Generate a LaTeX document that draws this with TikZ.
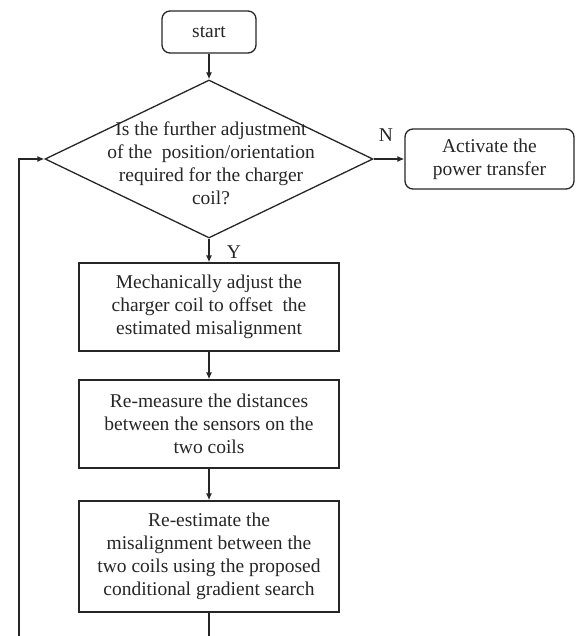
\documentclass[tikz,border=0pt]{standalone}
\usepackage{fontspec}
\setmainfont{Liberation Serif}
\usetikzlibrary{shapes.geometric,arrows.meta}
\begin{document}
\begin{tikzpicture}[x=1pt,y=-1pt,
  every node/.style={font=\fontsize{19.5}{23}\selectfont, text=black!85},
  line/.style={draw=black!85, line width=1.3pt},
  arr/.style={line, -{Latex[length=7pt,width=6pt]}},
  rbox/.style={line, rectangle, rounded corners=8pt, inner sep=0pt, align=center},
  pbox/.style={line, rectangle, inner sep=0pt, align=center, minimum width=260pt},
  plain/.style={inner sep=0pt, align=center}]
\useasboundingbox (0,0) rectangle (579,636);
\node[rbox, minimum width=94pt, minimum height=42pt] (start) at (209,32) {start};
\node[line, diamond, inner sep=0pt, minimum width=328pt, minimum height=158pt] (q) at (209,159) {};
\node[plain] (qt) at (211,163) {Is the further adjustment\\of the\ \ position/orientation\\required for the charger\\coil?};
\node[rbox, minimum width=169pt, minimum height=60pt] (act) at (489.5,159) {Activate the\\power transfer};
\node[pbox, minimum height=88pt] (b2) at (209,307) {Mechanically adjust the\\charger coil to offset\ \ the\\estimated misalignment};
\node[pbox, minimum height=88pt] (b3) at (209,424) {Re-measure the distances\\between the sensors on the\\two coils};
\node[pbox, minimum height=111pt] (b4) at (209,556.5) {Re-estimate the\\misalignment between the\\two coils using the proposed\\conditional gradient search};
\node[plain] (N) at (386,135) {N};
\node[plain] (Y) at (234,252) {Y};
\coordinate (lb) at (19,660);
\coordinate (lt) at (19,159);
\draw[arr] (start) -- (q.north);
\draw[arr] (q.east) -- (act.west);
\draw[arr] (q.south) -- (b2.north);
\draw[arr] (b2) -- (b3);
\draw[arr] (b3) -- (b4);
\draw[arr] (b4.south) |- (lb) -- (lt) -- (q.west);
\end{tikzpicture}
\end{document}
